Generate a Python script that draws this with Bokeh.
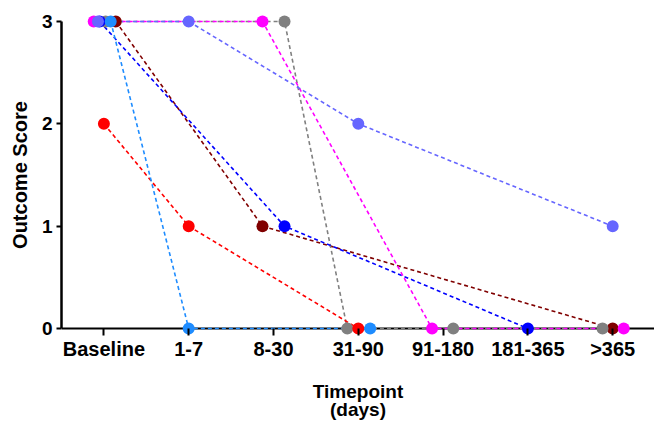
from bokeh.plotting import figure
from bokeh.models import FixedTicker, Span, ColumnDataSource
from bokeh.embed import file_html
from bokeh.resources import INLINE

# ---- data ----
categories = ["Baseline", "1-7", "8-30", "31-90", "91-180", "181-365", ">365"]
y_ticks = [0, 1, 2, 3]

maroon_tp = ["Baseline", "8-30", ">365"]
maroon_score = [3, 1, 0]
gray_tp = ["Baseline", "8-30", "31-90", "91-180", ">365"]
gray_score = [3, 3, 0, 0, 0]
blue_tp = ["Baseline", "8-30", "181-365"]
blue_score = [3, 1, 0]
red_tp = ["Baseline", "1-7", "31-90"]
red_score = [2, 1, 0]
magenta_tp = ["Baseline", "8-30", "91-180", ">365"]
magenta_score = [3, 3, 0, 0]
slate_tp = ["Baseline", "1-7", "31-90", ">365"]
slate_score = [3, 3, 2, 1]
dodger_tp = ["Baseline", "1-7", "31-90"]
dodger_score = [3, 0, 0]

# horizontal jitter of the symbols (layout only)
maroon_jit = [0.14, -0.13, 0.0]
gray_jit = [0.02, 0.13, -0.13, 0.12, -0.12]
blue_jit = [-0.05, 0.13, 0.0]
red_jit = [0.0, 0.0, 0.0]
magenta_jit = [-0.12, -0.13, -0.13, 0.13]
slate_jit = [-0.07, 0.0, 0.0, 0.0]
dodger_jit = [0.08, 0.0, 0.14]

series = [
    (maroon_tp, maroon_score, maroon_jit, "#800000"),
    (gray_tp, gray_score, gray_jit, "#808080"),
    (blue_tp, blue_score, blue_jit, "#0000FF"),
    (red_tp, red_score, red_jit, "#FF0000"),
    (magenta_tp, magenta_score, magenta_jit, "#FF00FF"),
    (slate_tp, slate_score, slate_jit, "#6666FF"),
    (dodger_tp, dodger_score, dodger_jit, "#1E8CFF"),
]

FONT = "Liberation Sans"
pad = 0.068

p = figure(width=654, height=423, output_backend="svg", toolbar_location=None,
           x_range=(-0.5, 6.493), y_range=(-pad, 3 + pad),
           min_border_left=61, min_border_right=0, min_border_top=14, min_border_bottom=87)
p.outline_line_color = None
p.xgrid.visible = False
p.ygrid.visible = False
p.background_fill_color = "white"
p.border_fill_color = "white"

# x-axis line at score 0
p.add_layout(Span(location=0, dimension="width", line_color="black", line_width=2, level="underlay"))

for tp, sc, jit, col in series:
    xs = [categories.index(t) + j for t, j in zip(tp, jit)]
    src = ColumnDataSource(dict(x=xs, y=sc))
    p.line("x", "y", source=src, line_color=col, line_width=1.6, line_dash="4 3")
for tp, sc, jit, col in series:
    xs = [categories.index(t) + j for t, j in zip(tp, jit)]
    src = ColumnDataSource(dict(x=xs, y=sc))
    p.scatter("x", "y", source=src, size=12, fill_color=col, line_color=col, line_width=0)

xa = p.xaxis[0]
xa.ticker = FixedTicker(ticks=list(range(len(categories))))
xa.major_label_overrides = {i: c for i, c in enumerate(categories)}
xa.axis_line_color = None
xa.major_tick_in = 7
xa.major_tick_out = 0
xa.major_tick_line_width = 2
xa.minor_tick_line_color = None
xa.major_label_standoff = 2
xa.major_label_text_font = FONT
xa.major_label_text_font_style = "bold"
xa.major_label_text_font_size = "20px"
xa.major_label_text_color = "black"
xa.axis_label = "Timepoint\n(days)"
xa.axis_label_text_font = FONT
xa.axis_label_text_font_style = "bold"
xa.axis_label_text_font_size = "19px"
xa.axis_label_text_line_height = 0.9
xa.axis_label_text_color = "black"
xa.axis_label_standoff = 18

ya = p.yaxis[0]
ya.ticker = FixedTicker(ticks=y_ticks)
ya.bounds = (0, 3)
ya.axis_line_width = 2.5
ya.axis_line_color = "black"
ya.major_tick_in = 0
ya.major_tick_out = 5
ya.major_tick_line_width = 2
ya.minor_tick_line_color = None
ya.major_label_standoff = 4
ya.major_label_text_font = FONT
ya.major_label_text_font_style = "bold"
ya.major_label_text_font_size = "19px"
ya.major_label_text_color = "black"
ya.axis_label = "Outcome Score"
ya.axis_label_text_font = FONT
ya.axis_label_text_font_style = "bold"
ya.axis_label_text_font_size = "20px"
ya.axis_label_text_color = "black"
ya.axis_label_standoff = 8

open("out.html", "w").write(file_html(p, INLINE))
